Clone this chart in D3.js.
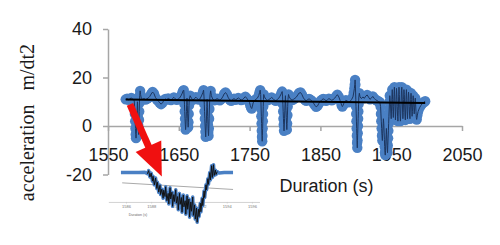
<!DOCTYPE html>
<html>
<head>
<meta charset="utf-8">
<script src="https://cdn.jsdelivr.net/npm/d3@7"></script>
<style>
body{margin:0;background:#fff}
svg{display:block}
</style>
</head>
<body>
<svg id="chart" width="500" height="245"></svg>
<script>
// tick labels
var xTicks = [1550, 1650, 1750, 1850, 1950, 2050]
var yTicks = [-20, 0, 20, 40]

// [duration (s), acceleration]
var accelPoints = [
 [1575,11.0],[1577,11.3],[1579,10.8],[1581,11.2],[1583,11.6],[1585,11.0],[1587,10.6],
 [1587.6,8],[1588,5],[1588.4,2],[1588.8,-1],[1589.2,-3.5],[1589.6,-5],[1590,-3],[1590.4,0],[1590.8,3],[1591.2,6.5],
 [1591.6,10],[1592,6.5],[1592.3,3.5],[1592.6,0.5],[1592.9,-2],[1593.2,-3.5],[1593.5,-1],[1593.8,2.5],[1594.1,6],[1594.4,9.5],
 [1594.8,12.5],[1595.4,14.5],[1596,13],[1597,11.5],[1599,11.0],
 [1601,11.3],[1603,10.9],[1605,11.2],[1607,11.6],[1609,12.2],[1611,13.2],[1613,14.0],[1615,13.3],[1617,11.8],[1619,10.9],
 [1621,10.4],[1623,9.6],[1625,9.0],[1627,9.6],[1629,10.6],[1631,11.2],[1633,10.9],[1635,11.4],[1637,11.1],[1639,10.7],
 [1641,11.3],[1643,11.8],[1645,11.2],[1647,10.8],[1649,11.1],[1651,11.5],[1653,12.4],[1655,13.6],[1656,14.5],[1657,14.8],
 [1657.5,12],[1658,9],[1658.4,6],[1658.8,3],[1659.2,0.5],[1659.6,-1.5],[1660,0],[1660.4,3],[1660.8,6],[1661.2,9],
 [1661.6,11.5],[1662,8.5],[1662.4,5],[1662.8,2],[1663.2,-0.5],[1663.6,1.5],[1664,5],[1664.4,8.5],[1664.8,11],[1666,12.5],[1668,11.4],
 [1670,10.8],[1672,11.2],[1674,11.9],[1676,11.3],[1678,10.9],[1680,11.2],[1682,12.4],[1684,13.8],[1685,14.8],
 [1685.6,12],[1686,9],[1686.4,6],[1686.8,3],[1687.2,0],[1687.6,-2.5],[1688,-4.5],[1688.4,-2],[1688.8,1],[1689.2,4.5],
 [1689.6,8],[1690,11],[1690.4,7.5],[1690.8,4],[1691.2,0.5],[1691.6,-2.5],[1692,-4],[1692.4,-1],[1692.8,3],[1693.2,7],
 [1693.6,10.5],[1694.2,13],[1695,14.5],[1696,12.5],[1698,11.0],
 [1700,10.6],[1702,10.9],[1704,11.3],[1706,11.0],[1708,10.6],[1710,11.1],[1712,12.0],[1714,13.2],[1716,13.8],[1718,13.0],
 [1720,11.6],[1722,10.8],[1724,10.4],[1726,10.9],[1728,11.3],[1730,10.8],[1732,11.1],[1734,11.6],[1736,11.2],[1738,10.7],
 [1740,10.9],[1742,11.5],[1744,12.1],[1746,11.4],[1748,10.6],[1750,9.6],[1751,8.5],[1752,7.6],[1753,7.2],[1754,8.2],
 [1755,9.5],[1757,10.6],[1759,11.0],[1761,11.5],[1763,12.6],[1764,13.8],[1765,14.8],
 [1765.6,13],[1766,10],[1766.3,7],[1766.6,4],[1766.9,1],[1767.2,-2],[1767.5,-4.5],[1767.8,-6.3],[1768.1,-4],[1768.4,-1],
 [1768.7,2],[1769,5],[1769.3,8],[1769.6,11],[1770,13],[1771,12],[1773,11.0],
 [1775,10.6],[1777,10.9],[1779,11.2],[1781,11.8],[1783,11.3],[1785,10.7],[1787,10.4],[1789,10.9],[1791,11.4],[1793,12.3],
 [1795,13.5],[1796,14.2],
 [1796.6,12],[1797,9],[1797.4,6],[1797.8,3],[1798.2,0.5],[1798.6,-2],[1799,0],[1799.4,3],[1799.8,6.5],[1800.2,10],
 [1800.6,12.5],[1801,9.5],[1801.4,6.5],[1801.8,3.5],[1802.2,0.5],[1802.6,-1.5],[1803,1],[1803.4,4.5],[1803.8,8],[1804.2,11],
 [1805,13],[1806,12],[1808,11.0],
 [1810,10.7],[1812,11.0],[1814,11.4],[1816,11.9],[1818,12.8],[1820,13.6],[1822,13.8],[1824,12.9],[1826,11.6],[1828,10.8],
 [1830,10.4],[1832,10.9],[1834,11.2],[1836,10.8],[1838,10.3],[1840,9.6],[1842,8.6],[1844,7.9],[1846,8.3],[1848,9.4],
 [1850,10.2],[1852,10.8],[1854,11.2],[1856,10.9],[1858,10.4],[1860,10.8],[1862,11.3],[1864,11.0],[1866,10.6],[1868,10.9],
 [1870,11.4],[1872,12.2],[1874,12.9],[1876,12.0],[1878,10.4],[1880,8.6],[1881,8.0],[1882,8.5],[1884,10.0],[1886,10.6],
 [1888,10.3],[1890,9.8],[1892,10.2],[1894,10.9],[1896,12.0],[1897,13.6],[1898,15.5],
 [1898.5,17],[1899,19],[1899.4,17],[1899.7,14],[1900,11],[1900.3,8],[1900.6,5],[1900.9,2],[1901.2,-1],[1901.5,-4],
 [1901.8,-7],[1902.1,-9],[1902.4,-6],[1902.7,-3],[1903,0],[1903.3,3],[1903.6,6],[1903.9,9],[1904.3,12],[1905,13.5],[1906,12],
 [1908,11.3],[1910,12.0],[1912,11.4],[1914,12.3],[1916,12.8],[1918,11.9],[1920,11.0],[1922,11.5],[1924,12.2],[1926,11.4],
 [1928,10.8],[1930,10.5],[1932,10.1],[1934,9.8],
 [1935,8],[1935.5,5],[1936,2],[1936.5,-1],[1937,-4],[1937.5,-6],[1938,-3],[1938.5,0],[1939,3],[1939.5,1],
 [1940,-2.5],[1940.4,-5.5],[1940.8,-8.5],[1941.2,-11],[1941.6,-12],[1942,-10],[1942.4,-7],[1942.8,-4],[1943.2,-1],[1943.6,-3.5],
 [1944,-6.5],[1944.4,-9.5],[1944.8,-11],[1945.2,-8],[1945.6,-5],[1946,-2],[1946.4,1],[1946.8,4],[1947.2,7],[1947.6,10],[1948,12.5],
 [1949,9],[1949.5,5],[1950,3],[1950.5,7],[1951,12],[1951.5,15],[1952,11],[1952.5,6],[1953,3.5],[1953.5,8],
 [1954,13],[1954.5,16],[1955,12],[1955.5,7],[1956,2.5],[1956.5,6],[1957,11],[1957.5,15.5],[1958,13],[1958.5,8],
 [1959,4],[1959.5,2],[1960,6.5],[1960.5,12],[1961,16],[1961.5,13],[1962,9],[1962.5,4.5],[1963,2],[1963.5,5],
 [1964,10],[1964.5,14.5],[1965,16],[1965.5,12],[1966,7],[1966.5,3],[1967,5.5],[1967.5,11],[1968,15],[1968.5,13],
 [1969,9],[1969.5,4],[1970,2.5],[1970.5,7],[1971,12.5],[1971.5,15],[1972,11],[1972.5,6],[1973,3],[1973.5,6.5],
 [1974,11.5],[1974.5,14],[1975,12],[1975.5,8],[1976,4.5],[1976.5,3],[1977,7],[1977.5,11],[1978,13.5],[1978.5,11],
 [1979,7],[1979.5,4],[1980,6],[1980.5,10],[1981,12.5],[1981.5,10.5],[1982,7.5],[1982.5,5],[1983,7],[1983.5,10],
 [1984,11.5],[1984.5,9],[1985,6],[1985.5,3.5],[1986,2.7],[1987,4.5],[1988,6],[1990,7.5],[1992,8.5],[1994,9.3],
 [1996,9.8],[1998,10.2]
]

// black linear trend
var trendTimes = [1575, 1998]
var trendValues = [10.9, 9.5]

// red arrow, in chart units
var arrowTimes = [1581, 1626]
var arrowValues = [8.9, -20.8]

// little pasted zoom chart
var insetPoints = [
 [1585.6,12],[1586.0,12],[1586.5,12],[1587.0,12],[1587.5,12.1],[1587.7,11.5],[1587.8,12.8],[1587.9,10.2],[1588.0,11.8],[1588.1,8.5],
 [1588.15,10.5],[1588.25,7.0],[1588.35,9.8],[1588.45,5.5],[1588.5,8.0],[1588.6,4.0],[1588.7,6.8],[1588.75,3.0],[1588.85,5.2],[1588.95,1.5],
 [1589.0,4.8],[1589.1,2.2],[1589.15,6.2],[1589.25,0.5],[1589.35,3.5],[1589.4,-0.8],[1589.5,5.8],[1589.55,1.2],[1589.65,4.0],[1589.7,-1.8],
 [1589.8,3.0],[1589.85,0.2],[1589.95,5.0],[1590.0,-0.5],[1590.1,2.2],[1590.15,-3.2],[1590.25,3.5],[1590.3,-1.0],[1590.4,1.8],[1590.45,-4.2],
 [1590.55,2.8],[1590.6,-2.0],[1590.7,0.5],[1590.75,-5.0],[1590.85,2.5],[1590.9,-3.0],[1591.0,1.2],[1591.05,-6.2],[1591.15,0.0],[1591.2,-3.8],
 [1591.3,2.0],[1591.35,-5.5],[1591.45,-1.2],[1591.5,-7.0],[1591.6,-2.5],[1591.65,-8.3],[1591.75,-3.0],[1591.8,-6.0],[1591.9,-0.5],[1591.95,-4.0],
 [1592.05,1.5],[1592.1,-1.5],[1592.2,4.5],[1592.25,1.8],[1592.35,7.0],[1592.4,5.0],[1592.5,9.5],[1592.55,7.2],[1592.65,12.0],[1592.7,9.0],
 [1592.8,14.8],[1592.85,10.0],[1592.95,15.2],[1593.0,10.8],[1593.1,13.0],[1593.15,11.2],[1593.25,12.4],[1593.4,11.8],[1593.8,12],[1594.2,12],
 [1594.5,12]
]
var insetTicks = [1586, 1588, 1590, 1592, 1594, 1596]
var insetDark = [1587.6, 1593.3]
var insetTrendTimes = [1585.7, 1594.5]
var insetTrendValues = [7.8, 5.1]

var blue = "#4a80c4"
var axisGray = "#a6a6a6"

var svg = d3.select("#chart")

var x = d3.scaleLinear().domain([1550, 2050]).range([108, 462])
var y = d3.scaleLinear().domain([-20, 40]).range([174.5, 29])

var plain = function(d){ return String(d) }

// axes
var yAxis = d3.axisLeft(y).tickValues(yTicks).tickSize(5).tickSizeOuter(0).tickPadding(11).tickFormat(plain)
var xAxis = d3.axisBottom(x).tickValues(xTicks).tickSize(5).tickSizeOuter(0).tickPadding(17.5).tickFormat(plain)

svg.append("g").attr("transform", "translate(" + x(1550) + ",0)").call(yAxis)
svg.append("g").attr("transform", "translate(0," + y(0) + ")").call(xAxis)

svg.selectAll(".domain, .tick line").attr("stroke", axisGray).attr("stroke-width", 1.5)
svg.selectAll(".tick text")
    .attr("fill", "#1a1a1a")
    .style("font-family", "'Liberation Sans', Arial, sans-serif")
    .style("font-size", "18px")

// titles
var ylab = svg.append("text")
    .attr("transform", "translate(34,122.5) rotate(-90)")
    .attr("text-anchor", "middle")
    .attr("fill", "#1a1a1a")
    .style("font-family", "'Liberation Serif', 'Times New Roman', serif")
    .style("font-size", "20px")
ylab.append("tspan").text("acceleration")
ylab.append("tspan").attr("dx", 14).text("m/dt2")

svg.append("text")
    .attr("x", 326.5)
    .attr("y", 191.5)
    .attr("text-anchor", "middle")
    .attr("fill", "#1a1a1a")
    .style("font-family", "'Liberation Sans', Arial, sans-serif")
    .style("font-size", "18px")
    .text("Duration (s)")

// markers
svg.append("g")
    .selectAll("circle")
    .data(accelPoints)
    .enter()
    .append("circle")
    .attr("cx", function(d){ return x(d[0]) })
    .attr("cy", function(d){ return y(d[1]) })
    .attr("r", 5.2)
    .attr("fill", blue)

// dark line through the same readings
var line = d3.line().x(function(d){ return x(d[0]) }).y(function(d){ return y(d[1]) })
svg.append("path")
    .datum(accelPoints)
    .attr("d", line)
    .attr("fill", "none")
    .attr("stroke", "#1c355e")
    .attr("stroke-width", 1)

// trend
var trend = trendTimes.map(function(t, i){ return [t, trendValues[i]] })
svg.append("path")
    .datum(trend)
    .attr("d", line)
    .attr("fill", "none")
    .attr("stroke", "#000")
    .attr("stroke-width", 2)

// inset chart, placed in main chart units
var ix = d3.scaleLinear().domain([1585, 1595]).range([x(1557.6), x(1735.5)])
var iy = d3.scaleLinear().domain([-8, 12]).range([y(-39.4), y(-19.2)])
var ixAxisScale = d3.scaleLinear().domain([1584.6, 1596.6]).range([ix(1584.6), ix(1596.6)])

var inset = svg.append("g")
inset.append("g")
    .attr("transform", "translate(0," + iy(0) + ")")
    .call(d3.axisBottom(ixAxisScale).tickValues(insetTicks).tickSize(1.5).tickSizeOuter(0).tickPadding(1.5).tickFormat(plain))
    .call(function(g){
        g.selectAll(".domain, .tick line").attr("stroke", "#c8c8c8").attr("stroke-width", 0.8)
        g.selectAll(".tick text").attr("fill", "#777").style("font-size", "4px").style("font-family", "'Liberation Sans', Arial, sans-serif")
    })
inset.append("text")
    .attr("x", ix(1586.95))
    .attr("y", iy(-5.6))
    .attr("text-anchor", "middle")
    .attr("fill", "#666")
    .style("font-size", "3.5px")
    .style("font-family", "'Liberation Sans', Arial, sans-serif")
    .text("Duration (s)")

var iline = d3.line().x(function(d){ return ix(d[0]) }).y(function(d){ return iy(d[1]) })
var itrend = insetTrendTimes.map(function(t, i){ return [t, insetTrendValues[i]] })
inset.append("path")
    .datum(itrend)
    .attr("d", iline)
    .attr("fill", "none")
    .attr("stroke", "#aaa")
    .attr("stroke-width", 1)
inset.append("path")
    .datum(insetPoints)
    .attr("d", iline)
    .attr("fill", "none")
    .attr("stroke", blue)
    .attr("stroke-width", 3.5)
    .attr("stroke-linejoin", "round")
inset.append("path")
    .datum(insetPoints.filter(function(d){ return d[0] >= insetDark[0] && d[0] <= insetDark[1] }))
    .attr("d", iline)
    .attr("fill", "none")
    .attr("stroke", "#111")
    .attr("stroke-width", 1)

// red arrow
var p0 = [x(arrowTimes[0]), y(arrowValues[0])]
var p1 = [x(arrowTimes[1]), y(arrowValues[1])]
var len = Math.hypot(p1[0] - p0[0], p1[1] - p0[1])
var ux = (p1[0] - p0[0]) / len, uy = (p1[1] - p0[1]) / len
var headLen = 33, headHalf = 14
var base = [p1[0] - ux * headLen, p1[1] - uy * headLen]
svg.append("line")
    .attr("x1", p0[0]).attr("y1", p0[1])
    .attr("x2", base[0] + ux * 2).attr("y2", base[1] + uy * 2)
    .attr("stroke", "#f01010")
    .attr("stroke-width", 7)
svg.append("path")
    .attr("d", "M" + p1[0] + "," + p1[1] +
               "L" + (base[0] - uy * headHalf) + "," + (base[1] + ux * headHalf) +
               "L" + (base[0] + uy * headHalf) + "," + (base[1] - ux * headHalf) + "Z")
    .attr("fill", "#f01010")
</script>
</body>
</html>
